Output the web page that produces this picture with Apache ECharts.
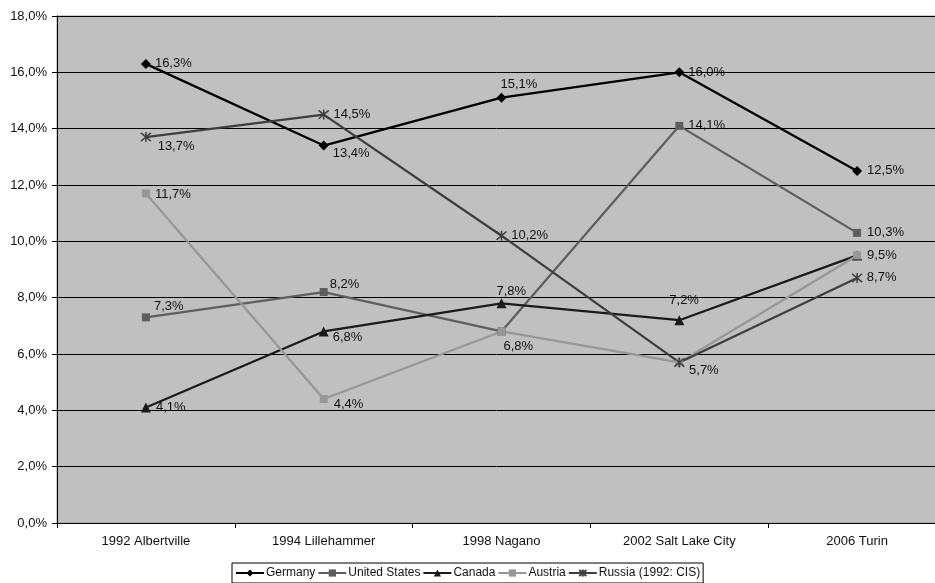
<!DOCTYPE html>
<html>
<head>
<meta charset="utf-8">
<title>Winter Olympics medal share</title>
<script src="https://cdn.jsdelivr.net/npm/echarts@6/dist/echarts.min.js"></script>
<style>
  html, body { margin: 0; padding: 0; background: #ffffff; overflow: hidden; }
  #chart { width: 935px; height: 583px; }
</style>
</head>
<body>
<div id="chart"></div>
<script>
// Games (categories)
const games = ['1992 Albertville', '1994 Lillehammer', '1998 Nagano', '2002 Salt Lake City', '2006 Turin'];

// Share of medals, in percent
const germany = [16.3, 13.4, 15.1, 16.0, 12.5];
const unitedStates = [7.3, 8.2, 6.8, 14.1, 10.3];
const canada = [4.1, 6.8, 7.8, 7.2, 9.5];
const austria = [11.7, 4.4, 6.8, 5.7, 9.5];
const russia = [13.7, 14.5, 10.2, 5.7, 8.7];

// Value axis ticks
const yMin = 0, yMax = 18, yStep = 2;

// Where each value label sits, relative to its point: [dx to text start, dy to text middle]; null = no label
const germanyLabels = [[9, 0], [9, 8], [-1, -13], [9, 0], [10, 0]];
const usLabels = [[8, -11], [6, -8], [2, 15], [9, 0], [10, 0]];
const canadaLabels = [[10, 0], [9, 6], [-5, -12], [-10, -20], null];
const austriaLabels = [[9, 1], [10, 5], null, null, [10, 0]];
const russiaLabels = [[11, 9], [9, 0], [9, 0], [9, 8], [9, -1]];

const pct = v => v.toFixed(1).replace('.', ',') + '%';
const FONT = 'Liberation Sans, Arial, sans-serif';

const ASTERISK = 'path://M0,0L10,10M10,0L0,10M5,-1L5,11';

function makeSeries(name, values, labels, color, symbol, size, extraItem) {
  return {
    name: name,
    type: 'line',
    data: values.map((v, i) => {
      const spot = labels[i];
      return {
        value: v,
        label: spot ? {
          show: true,
          position: 'right',
          distance: 0,
          offset: [spot[0] - size / 2, spot[1]]
        } : { show: false }
      };
    }),
    symbol: symbol,
    symbolSize: size,
    showAllSymbol: true,
    clip: false,
    lineStyle: { color: color, width: 2.25 },
    itemStyle: Object.assign({ color: color, borderWidth: 0, opacity: 1 }, extraItem || {}),
    label: {
      formatter: p => pct(p.value),
      color: '#111111',
      fontFamily: FONT,
      fontSize: 13,
      align: 'left',
      verticalAlign: 'middle'
    },
    emphasis: { disabled: true },
    animation: false
  };
}

const chart = echarts.init(document.getElementById('chart'), null, { renderer: 'canvas' });

chart.setOption({
  animation: false,
  backgroundColor: '#ffffff',
  grid: {
    left: 57,
    width: 889,
    top: 16,
    bottom: 60,
    outerBoundsMode: 'none',
    show: true,
    backgroundColor: '#c0c0c0',
    borderColor: '#9a9a9a',
    borderWidth: 1,
    containLabel: false
  },
  xAxis: {
    type: 'category',
    data: games,
    boundaryGap: true,
    axisLine: { lineStyle: { color: '#000000', width: 1 } },
    axisTick: { show: true, length: 5, inside: false, lineStyle: { color: '#000000' } },
    axisLabel: { color: '#111111', fontFamily: FONT, fontSize: 13, margin: 12 },
    splitLine: { show: false }
  },
  yAxis: {
    type: 'value',
    min: yMin,
    max: yMax,
    interval: yStep,
    axisLine: { show: true, lineStyle: { color: '#000000', width: 1 } },
    axisTick: { show: true, length: 5, lineStyle: { color: '#000000' } },
    axisLabel: { formatter: v => pct(v), color: '#111111', fontFamily: FONT, fontSize: 13, margin: 10 },
    splitLine: { show: true, lineStyle: { color: '#000000', width: 1 } }
  },
  legend: {
    bottom: 0,
    left: 232,
    orient: 'horizontal',
    borderColor: '#000000',
    borderWidth: 1,
    borderRadius: 0,
    padding: [4, 3, 4, 3],
    itemGap: 2,
    itemWidth: 28,
    itemHeight: 9,
    textStyle: { color: '#111111', fontFamily: FONT, fontSize: 12, padding: [0, 0, 0, -3] },
    data: ['Germany', 'United States', 'Canada', 'Austria', 'Russia (1992: CIS)']
  },
  series: [
    makeSeries('Germany', germany, germanyLabels, '#000000', 'diamond', 10),
    makeSeries('United States', unitedStates, usLabels, '#5e5e5e', 'rect', 8),
    makeSeries('Canada', canada, canadaLabels, '#1a1a1a', 'triangle', 10),
    makeSeries('Austria', austria, austriaLabels, '#979797', 'rect', 8),
    makeSeries('Russia (1992: CIS)', russia, russiaLabels, '#3e3e3e', ASTERISK, 10,
      { color: 'rgba(0,0,0,0)', borderColor: '#3e3e3e', borderWidth: 1.5 })
  ]
});
</script>
</body>
</html>
